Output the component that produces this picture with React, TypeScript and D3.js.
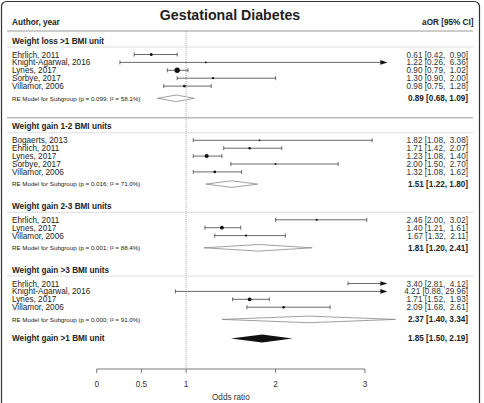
import * as d3 from "d3";

// ---- data ----
const groupTitles = [
  "Weight loss >1 BMI unit",
  "Weight gain 1-2 BMI units",
  "Weight gain 2-3 BMI units",
  "Weight gain >3 BMI units",
];

const studies = [
  ["Ehrlich, 2011", "Knight-Agarwal, 2016", "Lynes, 2017", "Sorbye, 2017", "Villamor, 2006"],
  ["Bogaerts, 2013", "Ehrlich, 2011", "Lynes, 2017", "Sorbye, 2017", "Villamor, 2006"],
  ["Ehrlich, 2011", "Lynes, 2017", "Villamor, 2006"],
  ["Ehrlich, 2011", "Knight-Agarwal, 2016", "Lynes, 2017", "Villamor, 2006"],
];

const estimates = [
  [0.61, 1.22, 0.9, 1.3, 0.98],
  [1.82, 1.71, 1.23, 2.0, 1.32],
  [2.46, 1.4, 1.67],
  [3.4, 4.21, 1.71, 2.09],
];
const lowers = [
  [0.42, 0.26, 0.79, 0.9, 0.75],
  [1.08, 1.42, 1.08, 1.5, 1.08],
  [2.0, 1.21, 1.32],
  [2.81, 0.88, 1.52, 1.68],
];
const uppers = [
  [0.9, 6.36, 1.02, 2.0, 1.28],
  [3.08, 2.07, 1.4, 2.7, 1.62],
  [3.02, 1.61, 2.11],
  [4.12, 29.96, 1.93, 2.61],
];
// approximate study weights (%)
const weights = [
  [17, 6, 54, 9, 14],
  [6, 11, 30, 7, 13],
  [9, 27, 9],
  [11, 3, 27, 11],
];

const reEst = [0.89, 1.51, 1.81, 2.37];
const reLo = [0.68, 1.22, 1.2, 1.4];
const reHi = [1.09, 1.8, 2.41, 3.34];
const reP = ["0.099", "0.016", "0.001", "0.000"];
const reI2 = ["58.1", "71.0", "88.4", "91.0"];

const overallLabel = "Weight gain >1 BMI unit";
const overall = [1.85, 1.5, 2.19];

const axisTicks = [0, 0.5, 1, 2, 3];

// ---- layout ----
const W = 484;
const H = 403;
const FONT = "'Liberation Sans', Arial, sans-serif";
const headToFirst = 14;
const step = 7.9;
const lastToRE = 12.2;
const reToNext = 21.7;
const firstGap = 6.3; // extra room for the dark separator after group 1
const reToOverall = 19;

const fmt = d3.format(".2f");

export default function App() {
  const x = d3.scaleLinear().domain([0, 3]).range([96.7, 365]);
  const clipHi = 3.25;
  const r = d3.scaleSqrt().domain([0, 54]).range([0, 2.7]);

  // compute row positions
  let y = 40.5;
  const groups = groupTitles.map((title, g) => {
    const headerY = y;
    const rowsY = studies[g].map((_, i) => headerY + headToFirst + i * step);
    const reY = rowsY[rowsY.length - 1] + lastToRE;
    y = reY + reToNext + (g === 0 ? firstGap : 0);
    return { title, headerY, rowsY, reY };
  });
  const overallY = groups[3].reY + reToOverall;
  const axisY = 369;
  const valX = 468;

  const valueText = (e: number, l: number, h: number) =>
    `${fmt(e)} [${fmt(l)}, ${fmt(h).padStart(5, " ")}]`;

  const diamond = (e: number, l: number, h: number, cy: number, hh: number) =>
    `M${x(l)},${cy} L${x(e)},${cy - hh} L${x(h)},${cy} L${x(e)},${cy + hh} Z`;

  return (
    <svg
      width={W}
      height={H}
      style={{ position: "absolute", left: 0, top: 0, background: "#fff" }}
      fontFamily={FONT}
    >
      <rect x={1.5} y={1.5} width={478} height={440} rx={5} fill="#fff" stroke="#333" strokeWidth={1.2} />

      <text x={230} y={20} textAnchor="middle" fontSize={14.2} fontWeight="bold" fill="#222">
        Gestational Diabetes
      </text>
      <text x={12} y={25} fontSize={8.2} fontWeight="bold" fill="#222">
        Author, year
      </text>
      <text x={473.5} y={25} textAnchor="end" fontSize={8.2} fontWeight="bold" fill="#222">
        aOR [95% CI]
      </text>
      <line x1={7} x2={473} y1={31} y2={31} stroke="#999" strokeWidth={1} />
      <line x1={7} x2={473} y1={groups[1].headerY - 8.5} y2={groups[1].headerY - 8.5} stroke="#999" strokeWidth={1} />

      {/* reference line at OR = 1 */}
      <line x1={x(1)} x2={x(1)} y1={31} y2={axisY} stroke="#999" strokeWidth={0.8} strokeDasharray="1,1" />

      {groups.map((grp, g) => (
        <g key={grp.title}>
          <text x={12} y={grp.headerY + 3} fontSize={8.2} fontWeight="bold" fill="#222">
            {grp.title}
          </text>
          <line x1={7} x2={473} y1={grp.headerY + 6.5} y2={grp.headerY + 6.5} stroke="#ddd" strokeWidth={1} />

          {studies[g].map((name, i) => {
            const cy = grp.rowsY[i];
            const e = estimates[g][i];
            const lo = lowers[g][i];
            const hi = uppers[g][i];
            const arrow = hi > clipHi;
            const xr = x(Math.min(hi, clipHi));
            return (
              <g key={name + i}>
                <text x={12} y={cy + 3} fontSize={8.2} fill="#222">
                  {name}
                </text>
                <line x1={x(lo)} x2={arrow ? xr - 6 : xr} y1={cy} y2={cy} stroke="#444" strokeWidth={0.8} />
                <line x1={x(lo)} x2={x(lo)} y1={cy - 2} y2={cy + 2} stroke="#444" strokeWidth={0.8} />
                {arrow ? (
                  <path d={`M${xr},${cy} L${xr - 7},${cy - 2.3} L${xr - 7},${cy + 2.3} Z`} fill="#111" />
                ) : (
                  <line x1={xr} x2={xr} y1={cy - 2} y2={cy + 2} stroke="#444" strokeWidth={0.8} />
                )}
                {e <= clipHi && <circle cx={x(e)} cy={cy} r={r(weights[g][i])} fill="#111" />}
                <text x={valX} y={cy + 3} textAnchor="end" fontSize={8.2} fill="#333" style={{ whiteSpace: "pre" }}>
                  {valueText(e, lo, hi)}
                </text>
              </g>
            );
          })}

          <text x={12} y={grp.reY + 2.2} fontSize={6.2} fill="#222">
            {`RE Model for Subgroup (p = ${reP[g]}; I² = ${reI2[g]}%)`}
          </text>
          <path d={diamond(reEst[g], reLo[g], reHi[g], grp.reY, 3.3)} fill="#fff" stroke="#888" strokeWidth={0.8} />
          <text x={valX} y={grp.reY + 3} textAnchor="end" fontSize={8.2} fontWeight="bold" fill="#222">
            {`${fmt(reEst[g])} [${fmt(reLo[g])}, ${fmt(reHi[g])}]`}
          </text>
        </g>
      ))}

      <text x={12} y={overallY + 3} fontSize={8.2} fontWeight="bold" fill="#222">
        {overallLabel}
      </text>
      <path d={diamond(overall[0], overall[1], overall[2], overallY, 4)} fill="#111" />
      <text x={valX} y={overallY + 3} textAnchor="end" fontSize={8.2} fontWeight="bold" fill="#222">
        {`${fmt(overall[0])} [${fmt(overall[1])}, ${fmt(overall[2])}]`}
      </text>

      {/* x axis */}
      <g>
        <line x1={x(0)} x2={x(3)} y1={axisY} y2={axisY} stroke="#555" strokeWidth={0.8} />
        {axisTicks.map((t) => (
          <g key={t}>
            <line x1={x(t)} x2={x(t)} y1={axisY} y2={axisY + 4} stroke="#555" strokeWidth={0.8} />
            <text x={x(t)} y={386.5} textAnchor="middle" fontSize={8.2} fill="#333">
              {String(t)}
            </text>
          </g>
        ))}
        <text x={(x(0) + x(3)) / 2} y={400} textAnchor="middle" fontSize={8.2} fill="#333">
          Odds ratio
        </text>
      </g>
    </svg>
  );
}
